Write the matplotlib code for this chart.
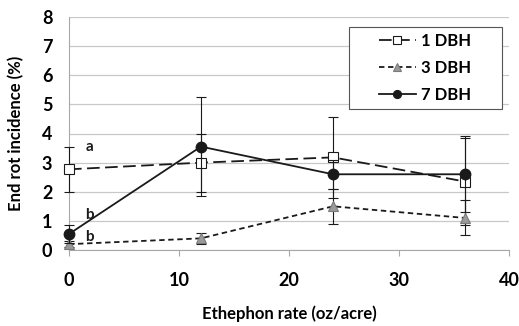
import matplotlib
matplotlib.use("Agg")
import matplotlib.pyplot as plt
from matplotlib.patches import Rectangle

rate = [0, 12, 24, 36]

dbh1 = [2.77, 3.0, 3.18, 2.35]
dbh1_err = [0.77, 1.0, 1.4, 1.5]
dbh3 = [0.2, 0.4, 1.5, 1.1]
dbh3_err = [0.1, 0.2, 0.6, 0.6]
dbh7 = [0.55, 3.55, 2.6, 2.6]
dbh7_err = [0.3, 1.7, 0.5, 1.3]

letters = [("a", 3.55), ("b", 1.2), ("b", 0.45)]

plt.rcParams.update({
    "font.family": "Lato",
    "font.weight": "bold",
    "font.size": 12,
})

INK = "#1a1a1a"
GRID = "#c8c8c8"
AXIS = "#a8a8a8"

fig = plt.figure(figsize=(5.19, 3.26), dpi=100)
ax = fig.add_axes([69 / 519, 1 - 250 / 326, (509 - 69) / 519, (250 - 17) / 326])

ekw = dict(ecolor=INK, elinewidth=0.8, capsize=3.5, capthick=0.8)
ax.errorbar(rate, dbh1, yerr=dbh1_err, color=INK, lw=1.3, ls=(0, (7, 3)),
            marker="s", ms=7.5, mfc="white", mec=INK, mew=0.8, label="1 DBH",
            zorder=3, clip_on=False, **ekw)
ax.errorbar(rate, dbh3, yerr=dbh3_err, color=INK, lw=1.3, ls=(0, (3, 2)),
            marker="^", ms=7.5, mfc="#9a9a9a", mec="#7a7a7a", mew=0.8,
            label="3 DBH", zorder=3, clip_on=False, **ekw)
ax.errorbar(rate, dbh7, yerr=dbh7_err, color=INK, lw=1.3, ls="-",
            marker="o", ms=7.5, mfc=INK, mec=INK, label="7 DBH", zorder=4,
            clip_on=False, **ekw)

for txt, y in letters:
    ax.text(1.5, y, txt, fontsize=11, fontweight="bold", color=INK,
            ha="left", va="center")

ax.set_xlim(0, 40)
ax.set_ylim(0, 8)
ax.set_xticks([0, 10, 20, 30, 40])
ax.set_yticks(range(9))
ax.grid(axis="y", color=GRID, lw=0.9)
ax.set_axisbelow(True)
for s in ["top", "right"]:
    ax.spines[s].set_visible(False)
for s in ["left", "bottom"]:
    ax.spines[s].set_color(AXIS)
ax.tick_params(axis="x", length=4, color=AXIS, pad=12, labelsize=13)
ax.tick_params(axis="y", length=0, pad=12, labelsize=13)

ax.set_xlabel("Ethephon rate (oz/acre)", fontsize=12, fontweight="bold",
              labelpad=12)
ax.set_ylabel("End rot incidence (%)", fontsize=12, fontweight="bold",
              labelpad=13)

# legend box drawn separately so the entries can sit centred inside it
box = Rectangle((349 / 519, 1 - 109 / 326), 153 / 519, 82 / 326,
                transform=fig.transFigure, facecolor="white",
                edgecolor="#555555", lw=0.8, zorder=5)
fig.patches.append(box)

handles, labels = ax.get_legend_handles_labels()
handles = [h[0] for h in handles]
leg = fig.legend(handles, labels, loc="center",
                 bbox_to_anchor=(425 / 519, 1 - 68 / 326),
                 frameon=False, handlelength=2.2, handletextpad=0.3,
                 labelspacing=0.65, borderpad=0, fontsize=12,
                 markerscale=0.75)
leg.set_zorder(6)

fig.savefig("out.png", dpi=100)
